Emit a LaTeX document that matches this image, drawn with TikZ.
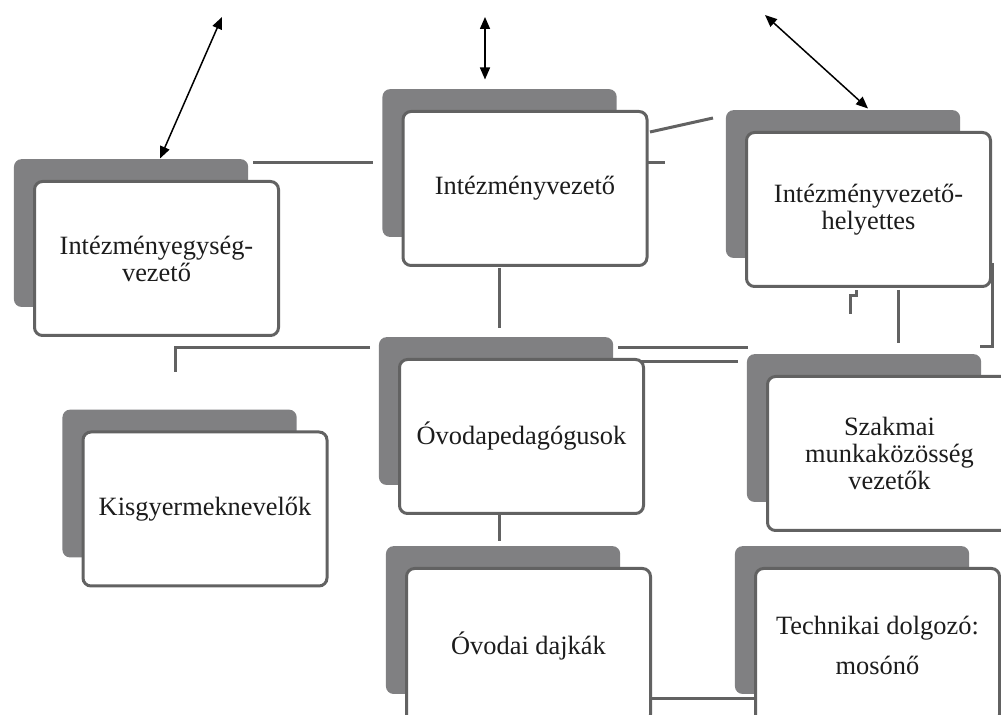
\documentclass[tikz,border=0pt]{standalone}
\usepackage{fontspec}
\setmainfont{Liberation Serif}
\usetikzlibrary{arrows.meta,shadows}
\definecolor{boxshade}{RGB}{128,128,130}
\definecolor{boxline}{RGB}{98,98,98}
\definecolor{inkdark}{RGB}{28,28,28}
\begin{document}
\begin{tikzpicture}[x=0.5pt,y=-0.5pt,
    unit/.style={rectangle,draw=boxline,line width=1.5pt,fill=white,
      rounded corners=4pt,outer sep=0pt,minimum width=122pt,minimum height=77pt,
      align=center,text=inkdark,font=\fontsize{13.2}{13.5}\selectfont,
      general shadow={fill=boxshade,shadow scale=0.96,
        shadow xshift=-13.25pt,shadow yshift=13.25pt}},
    link/.style={draw=boxline,line width=1.5pt},
    both/.style={>={Triangle[length=6pt,width=5pt]},<->,line width=0.75pt,black}]
      \useasboundingbox (0,0) rectangle (1001,715);
      \clip (0,0) rectangle (1001,715);
      \node[unit] (unitlead) at (156.5,258.5) {Intézményegység-\\vezető};
      \node[unit] (head) at (525,188.5) {Intézményvezető};
      \node[unit] (deputy) at (868.5,209.5) {Intézményvezető-\\helyettes};
      \node[unit] (nursery) at (205,509) {Kisgyermeknevelők};
      \node[unit] (teachers) at (521.5,436.5) {Óvodapedagógusok};
      \node[unit] (workgroup) at (889.5,453.5) {Szakmai\\munkaközösség\\vezetők};
      \node[unit] (nannies) at (528.5,645.5) {Óvodai dajkák};
      \node[unit] (laundry) at (877.5,645.5) {Technikai dolgozó:\\[6.5pt]mosónő};
      \coordinate (topleft) at (222,17);
      \coordinate (topmid) at (485,17);
      \coordinate (topright) at (765,15);
      \draw[both] (topleft) -- ([shift={(3.5,-23)}]unitlead.north);
      \draw[both] (topmid) -- ([shift={(-40,-32)}]head.north);
      \draw[both] (topright) -- ([shift={(-0.5,-24)}]deputy.north);
      \coordinate (gapa) at (253,163);
      \coordinate (gapb) at (373,163);
      \coordinate (slanta) at (650,132);
      \coordinate (slantb) at (713,118);
      \coordinate (stuba) at (648,163);
      \coordinate (stubb) at (665,163);
      \coordinate (dropa) at (499,268);
      \coordinate (dropb) at (499,328);
      \coordinate (lefta) at (370,348);
      \coordinate (leftb) at (175,348);
      \coordinate (leftc) at (175,372);
      \coordinate (righta) at (618,348);
      \coordinate (rightb) at (748,348);
      \coordinate (lowa) at (640,362);
      \coordinate (lowb) at (738,362);
      \coordinate (depa) at (898,290);
      \coordinate (depb) at (898,343);
      \coordinate (hooka) at (850,314);
      \coordinate (hookb) at (850,296);
      \coordinate (hookc) at (856,296);
      \coordinate (hookd) at (856,290);
      \coordinate (edgea) at (992,263);
      \coordinate (edgeb) at (992,347);
      \coordinate (edgec) at (980,347);
      \coordinate (stema) at (499,513);
      \coordinate (stemb) at (499,541);
      \coordinate (basea) at (652,698);
      \coordinate (baseb) at (757,698);
      \draw[link] (gapa) -- (gapb);
      \draw[link] (slanta) -- (slantb);
      \draw[link] (stuba) -- (stubb);
      \draw[link] (dropa) -- (dropb);
      \draw[link] (lefta) -- (leftb) -- (leftc);
      \draw[link] (righta) -- (rightb);
      \draw[link] (lowa) -- (lowb);
      \draw[link] (depa) -- (depb);
      \draw[link] (hooka) -- (hookb) -- (hookc) -- (hookd);
      \draw[link] (edgea) -- (edgeb) -- (edgec);
      \draw[link] (stema) -- (stemb);
      \draw[link] (basea) -- (baseb);
\end{tikzpicture}
\end{document}
